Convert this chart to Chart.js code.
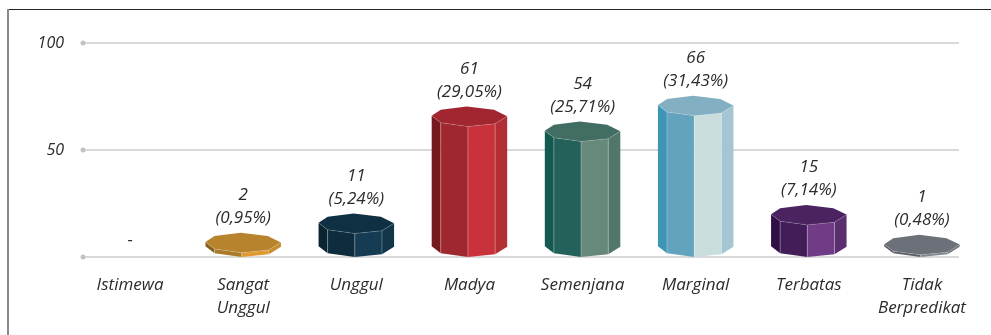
<!DOCTYPE html>
<html>
<head>
<meta charset="utf-8">
<script src="https://cdn.jsdelivr.net/npm/chart.js@4"></script>
<style>
html, body { margin: 0; padding: 0; background: #fff; overflow: hidden; }
#wrap { position: relative; width: 991px; height: 335px; }
#frameTop { position: absolute; left: 7px; top: 9px; right: 0; height: 1px; background: #222; }
#frameLeft { position: absolute; left: 7px; top: 9px; bottom: 0; width: 2px; background: #8a8a8a; }
canvas { position: absolute; left: 0; top: 0; }
</style>
</head>
<body>
<div id="wrap">
  <canvas id="myChart" width="991" height="335"></canvas>
  <div id="frameTop"></div>
  <div id="frameLeft"></div>
</div>
<script>
const categories = [["Istimewa"], ["Sangat", "Unggul"], ["Unggul"], ["Madya"], ["Semenjana"], ["Marginal"], ["Terbatas"], ["Tidak", "Berpredikat"]];
const counts = [0, 2, 11, 61, 54, 66, 15, 1];
const countLabels = ["-", "2", "11", "61", "54", "66", "15", "1"];
const percentLabels = ["", "(0,95%)", "(5,24%)", "(29,05%)", "(25,71%)", "(31,43%)", "(7,14%)", "(0,48%)"];
const yTicks = [0, 50, 100];

// top, then the four visible faces from left to right
const palette = [
    ["#ffffff", "#ffffff", "#ffffff", "#ffffff", "#ffffff"],
    ["#b7842d", "#85601f", "#a87a2a", "#e09a30", "#c98a2c"],
    ["#0f3042", "#0a2431", "#0d2c3d", "#163c54", "#123548"],
    ["#a1262f", "#75191f", "#9f272e", "#c9323b", "#b32f36"],
    ["#416d62", "#155a50", "#24615a", "#66897b", "#51776b"],
    ["#82afc2", "#3f95b6", "#63a3bd", "#c9dddd", "#a3c6d2"],
    ["#4a2360", "#2f0f45", "#421d58", "#703c85", "#5b2e70"],
    ["#6c7079", "#50535b", "#5c5f68", "#83868e", "#70737b"]
];

// octagon outline, x as share of half width, y as px above the front corner
const outlineX = [-1, -0.76, -0.07, 0.65, 1, 0.68, -0.04, -0.76];
const outlineY = [10.7, 16.7, 20, 16.7, 10.3, 2.7, 0, 3.7];
const frontCorners = [0, 7, 6, 5, 4];

const fontFamily = "'Open Sans'";
const fontSize = 17;
const textColor = "#2b2b2b";

function polygon(ctx, pts, fill) {
    ctx.beginPath();
    pts.forEach((p, i) => (i ? ctx.lineTo(p[0], p[1]) : ctx.moveTo(p[0], p[1])));
    ctx.closePath();
    ctx.fillStyle = fill;
    ctx.fill();
}

const gridPlugin = {
    id: "gridPlugin",
    beforeDatasetsDraw(chart) {
        const ctx = chart.ctx;
        const y = chart.scales.y;
        ctx.save();
        yTicks.forEach((t) => {
            const py = y.getPixelForValue(t);
            ctx.fillStyle = "#d9d9da";
            ctx.fillRect(83, py - 1, 876, 2);
            ctx.fillStyle = "#c2c3c7";
            ctx.beginPath();
            ctx.arc(83, py, 2.5, 0, Math.PI * 2);
            ctx.fill();
        });
        ctx.restore();
    },
};

const prismPlugin = {
    id: "prismPlugin",
    afterDatasetsDraw(chart) {
        const ctx = chart.ctx;
        const meta = chart.getDatasetMeta(0);
        ctx.save();
        meta.data.forEach((bar, i) => {
            const half = bar.width / 2;
            const top = (k) => [bar.x + outlineX[k] * half, bar.y - outlineY[k]];
            const bottom = (k) => [bar.x + outlineX[k] * half, bar.base - outlineY[k]];
            const colors = palette[i];
            if (counts[i] > 0) {
                for (let f = 0; f < 4; f++) {
                    const a = frontCorners[f];
                    const b = frontCorners[f + 1];
                    polygon(ctx, [top(a), top(b), bottom(b), bottom(a)], colors[f + 1]);
                    // pale seams between the faces
                    if (f > 0) {
                        ctx.strokeStyle = "rgba(255,255,255,0.35)";
                        ctx.lineWidth = 0.8;
                        ctx.beginPath();
                        ctx.moveTo(top(a)[0], top(a)[1]);
                        ctx.lineTo(bottom(a)[0], bottom(a)[1]);
                        ctx.stroke();
                    }
                }
                polygon(ctx, outlineX.map((_, k) => top(k)), colors[0]);
                // pale rim along the front of the top
                ctx.strokeStyle = "rgba(255,255,255,0.2)";
                ctx.lineWidth = 0.8;
                ctx.beginPath();
                frontCorners.forEach((k, n) => (n ? ctx.lineTo(top(k)[0], top(k)[1]) : ctx.moveTo(top(k)[0], top(k)[1])));
                ctx.stroke();
            }
            ctx.font = "italic " + fontSize + "px " + fontFamily;
            ctx.fillStyle = textColor;
            ctx.textAlign = "center";
            ctx.textBaseline = "middle";
            if (percentLabels[i]) {
                ctx.fillText(percentLabels[i], bar.x, bar.y - 34.5);
                ctx.fillText(countLabels[i], bar.x, bar.y - 57.5);
            } else {
                ctx.fillText(countLabels[i], bar.x, bar.y - 17);
            }
        });
        ctx.restore();
    },
};

new Chart(document.getElementById("myChart").getContext("2d"), {
    type: "bar",
    data: {
        labels: categories,
        datasets: [
            {
                data: counts,
                backgroundColor: "rgba(0,0,0,0)",
                barThickness: 75.5,
            },
        ],
    },
    options: {
        responsive: false,
        animation: false,
        layout: { padding: { top: 43, right: 12.5, left: 0, bottom: 0 } },
        plugins: { legend: { display: false }, tooltip: { enabled: false } },
        scales: {
            x: {
                afterFit(scale) { scale.height = 78; },
                grid: { display: false, drawTicks: false },
                border: { display: false },
                ticks: {
                    maxRotation: 0,
                    autoSkip: false,
                    padding: 16.5,
                    color: textColor,
                    font: { family: fontFamily, style: "italic", size: fontSize, lineHeight: 1.34 },
                },
            },
            y: {
                min: 0,
                max: 100,
                afterFit(scale) { scale.width = 73.5; },
                afterBuildTicks(scale) { scale.ticks = yTicks.map((v) => ({ value: v })); },
                grid: { display: false, drawTicks: false },
                border: { display: false },
                ticks: {
                    padding: 9.5,
                    color: textColor,
                    font: { family: fontFamily, style: "italic", size: 16 },
                    callback: (v) => (v === 0 ? "" : v),
                },
            },
        },
    },
    plugins: [gridPlugin, prismPlugin],
});
</script>
</body>
</html>
